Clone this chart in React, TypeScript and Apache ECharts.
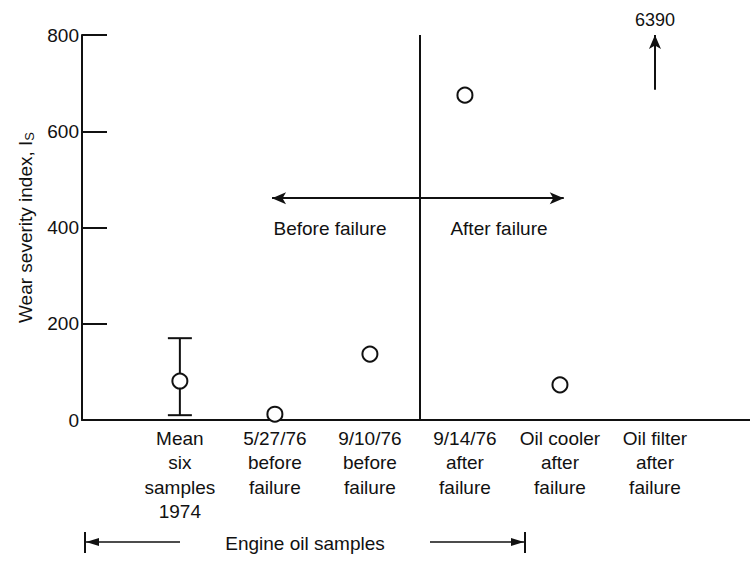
import React, { useEffect, useRef } from 'react';
import * as echarts from 'echarts';

const categories = [
  'Mean\nsix\nsamples\n1974',
  '5/27/76\nbefore\nfailure',
  '9/10/76\nbefore\nfailure',
  '9/14/76\nafter\nfailure',
  'Oil cooler\nafter\nfailure',
  'Oil filter\nafter\nfailure',
];
const sampleIndex = [0, 1, 2, 3, 4];
const sampleValues = [81, 12, 137, 675, 73];
const errorIndex = [0];
const errorLow = [10];
const errorHigh = [170];
const offScaleIndex = 5;
const offScaleLabel = '6390';
const offScaleArrowFrom = 686;
const yTicks = [0, 200, 400, 600, 800];
const failureDivider = 2.52;
const rangeArrowY = 461;
const rangeArrowFrom = 0.97;
const rangeArrowTo = 4.04;

const FONT = '"Liberation Sans", Arial, sans-serif';

export default function App() {
  const ref = useRef<HTMLDivElement>(null);
  useEffect(() => {
    if (!ref.current) return;
    const chart = echarts.init(ref.current, null, { renderer: 'svg' });
    const black = '#111';
    const option: any = {
      animation: false,
      backgroundColor: '#fff',
      textStyle: { fontFamily: FONT, color: black },
      grid: { left: 82, right: 0, top: 35, bottom: 141, containLabel: false, outerBoundsMode: 'none' },
      xAxis: {
        type: 'value',
        min: -1.03,
        max: 6,
        axisLine: { show: true, onZero: false, lineStyle: { color: black, width: 2 } },
        axisTick: { show: false },
        splitLine: { show: false },
        axisLabel: {
          customValues: categories.map((_, i) => i),
          formatter: (v: number) => categories[Math.round(v)] ?? '',
          fontFamily: FONT,
          fontSize: 19,
          lineHeight: 24.5,
          color: black,
          margin: 6,
        },
      },
      yAxis: {
        type: 'value',
        min: yTicks[0],
        max: yTicks[yTicks.length - 1],
        interval: 200,
        name: 'Wear severity index, I{s|S}',
        nameLocation: 'middle',
        nameGap: 46,
        nameRotate: 90,
        nameTextStyle: {
          fontFamily: FONT,
          fontSize: 19,
          color: black,
          rich: { s: { fontFamily: FONT, fontSize: 13, color: black, padding: [8, 0, 0, 0] } },
        },
        axisLine: { show: true, onZero: false, lineStyle: { color: black, width: 2 } },
        axisTick: { show: true, inside: true, length: 25, lineStyle: { color: black, width: 2 } },
        splitLine: { show: false },
        axisLabel: { fontFamily: FONT, fontSize: 19, color: black, margin: 3 },
      },
      series: [
        {
          type: 'custom',
          name: 'error',
          data: errorIndex.map((x, i) => [x, errorLow[i], errorHigh[i]]),
          renderItem: (params: any, api: any) => {
            const x = api.value(0);
            const lo = api.coord([x, api.value(1)]);
            const hi = api.coord([x, api.value(2)]);
            const hw = 12;
            const style = { stroke: black, lineWidth: 2 };
            return {
              type: 'group',
              children: [
                { type: 'line', shape: { x1: lo[0], y1: lo[1], x2: hi[0], y2: hi[1] }, style },
                { type: 'line', shape: { x1: lo[0] - hw, y1: lo[1], x2: lo[0] + hw, y2: lo[1] }, style },
                { type: 'line', shape: { x1: hi[0] - hw, y1: hi[1], x2: hi[0] + hw, y2: hi[1] }, style },
              ],
            };
          },
          z: 2,
        },
        {
          type: 'scatter',
          name: 'samples',
          data: sampleIndex.map((x, i) => [x, sampleValues[i]]),
          symbol: 'circle',
          symbolSize: 15,
          itemStyle: { color: '#fff', borderColor: black, borderWidth: 2, opacity: 1 },
          z: 5,
          markLine: {
            silent: true,
            animation: false,
            label: { show: false },
            lineStyle: { color: black, width: 2, type: 'solid' },
            data: [
              [
                { coord: [failureDivider, yTicks[0]], symbol: 'none' },
                { coord: [failureDivider, yTicks[yTicks.length - 1]], symbol: 'none' },
              ],
              [
                { coord: [rangeArrowFrom, rangeArrowY], symbol: 'arrow', symbolSize: [9, 14] },
                { coord: [rangeArrowTo, rangeArrowY], symbol: 'arrow', symbolSize: [9, 14] },
              ],
              [
                { coord: [offScaleIndex, offScaleArrowFrom], symbol: 'none' },
                {
                  coord: [offScaleIndex, yTicks[yTicks.length - 1]],
                  symbol: 'arrow',
                  symbolSize: [9, 14],
                  label: {
                    show: true,
                    position: 'end',
                    formatter: offScaleLabel,
                    fontFamily: FONT,
                    fontSize: 18,
                    color: black,
                    distance: 6,
                  },
                },
              ],
            ],
          },
        },
      ],
      graphic: [
        { type: 'text', x: 330, y: 228, style: { text: 'Before failure', font: `19px ${FONT}`, fill: black, align: 'center', verticalAlign: 'middle' } },
        { type: 'text', x: 499, y: 228, style: { text: 'After failure', font: `19px ${FONT}`, fill: black, align: 'center', verticalAlign: 'middle' } },
        { type: 'text', x: 305, y: 543, style: { text: 'Engine oil samples', font: `19px ${FONT}`, fill: black, align: 'center', verticalAlign: 'middle' } },
        { type: 'line', shape: { x1: 86, y1: 542, x2: 180, y2: 542 }, style: { stroke: black, lineWidth: 1.5 } },
        { type: 'polygon', shape: { points: [[86, 542], [99, 538], [99, 546]] }, style: { fill: black } },
        { type: 'line', shape: { x1: 85, y1: 532, x2: 85, y2: 553 }, style: { stroke: black, lineWidth: 2 } },
        { type: 'line', shape: { x1: 430, y1: 542, x2: 524, y2: 542 }, style: { stroke: black, lineWidth: 1.5 } },
        { type: 'polygon', shape: { points: [[524, 542], [511, 538], [511, 546]] }, style: { fill: black } },
        { type: 'line', shape: { x1: 525, y1: 532, x2: 525, y2: 553 }, style: { stroke: black, lineWidth: 2 } },
      ],
    };
    chart.setOption(option);
    return () => chart.dispose();
  }, []);
  return <div ref={ref} style={{ position: 'absolute', left: 0, top: 0, width: 750, height: 561 }} />;
}
